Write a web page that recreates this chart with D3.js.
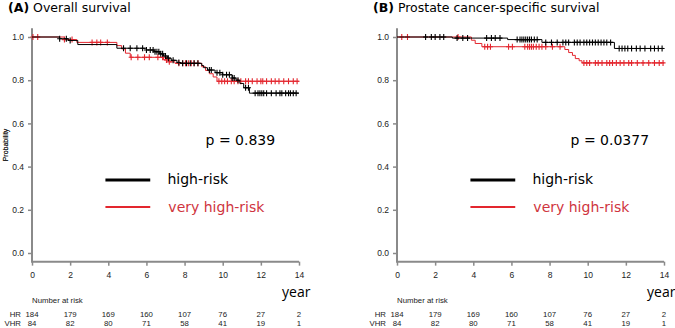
<!DOCTYPE html>
<html>
<head>
<meta charset="utf-8">
<script src="https://cdn.jsdelivr.net/npm/d3@7"></script>
<style>
  body { margin: 0; background: #fff; }
  svg { display: block; }
</style>
</head>
<body>
<svg id="chart" width="675" height="328"></svg>
<script>
// DATA
const years = [0, 2, 4, 6, 8, 10, 12, 14];
const yTicks = [0, 0.2, 0.4, 0.6, 0.8, 1.0];
const riskHR = [184, 179, 169, 160, 107, 76, 27, 2];
const riskVHR = [84, 82, 80, 71, 58, 41, 19, 1];

// overall survival, steps [year, prob]
const osHR = [[0, 1], [1.45, 0.992], [1.9, 0.984], [2.4, 0.965], [4.45, 0.948], [6.0, 0.94], [6.4, 0.932],
  [6.7, 0.922], [6.9, 0.912], [7.1, 0.902], [7.3, 0.892], [7.6, 0.882], [7.8, 0.878], [8.9, 0.868],
  [9.0, 0.858], [9.2, 0.847], [9.6, 0.835], [10.0, 0.825], [10.5, 0.81], [10.7, 0.8], [10.9, 0.785],
  [11.1, 0.765], [11.4, 0.74], [14, 0.74]];
const osVHR = [[0, 1], [1.7, 0.988], [2.35, 0.975], [4.45, 0.96], [4.7, 0.945], [4.9, 0.925], [5.15, 0.906],
  [6.9, 0.894], [7.2, 0.885], [7.5, 0.878], [8.9, 0.862], [9.1, 0.845], [9.3, 0.83], [9.5, 0.815],
  [9.7, 0.795], [14, 0.795]];
const osHRcens = [1.45, 1.8, 2.0, 4.8, 5.15, 5.5, 5.8, 6.0, 6.2, 6.35, 6.45, 6.55, 6.65, 6.75, 6.85, 7.0,
  7.15, 7.4, 7.7, 7.9, 8.1, 8.3, 8.5, 8.7, 9.3, 9.4, 9.7, 9.85, 10.0, 10.2, 10.35, 10.5, 10.6, 10.8,
  11.2, 11.35, 11.7, 11.85, 11.95, 12.05, 12.15, 12.3, 12.55, 12.8, 13.0, 13.1, 13.3, 13.45, 13.55,
  13.7, 13.85];
const osVHRcens = [0.05, 0.3, 1.7, 2.1, 3.15, 3.4, 3.6, 3.95, 5.2, 5.55, 5.9, 6.15, 6.6, 6.85, 7.05, 7.2,
  7.7, 7.9, 8.05, 8.2, 8.35, 8.5, 8.7, 9.8, 9.95, 10.1, 10.25, 10.45, 10.6, 10.8, 10.95, 11.2, 11.35,
  11.55, 11.8, 12.0, 12.1, 12.3, 12.55, 12.75, 12.95, 13.2, 13.45, 13.7, 13.9];

// prostate cancer-specific survival
const pcHR = [[0, 1], [2.9, 0.995], [5.8, 0.988], [7.6, 0.975], [11.4, 0.947], [14, 0.947]];
const pcVHR = [[0, 1], [3.9, 0.985], [4.1, 0.97], [4.45, 0.955], [8.8, 0.942], [9.0, 0.928], [9.2, 0.915],
  [9.35, 0.9], [9.55, 0.89], [9.7, 0.88], [14, 0.88]];
const pcHRcens = [1.5, 1.8, 2.0, 2.25, 2.45, 3.15, 3.45, 3.7, 4.7, 4.95, 5.15, 5.4, 6.3, 6.45, 6.55, 6.65,
  6.75, 6.85, 6.95, 7.05, 7.2, 7.35, 7.8, 8.1, 8.4, 8.7, 8.85, 9.0, 9.3, 9.45, 9.6, 9.8, 9.95, 10.1,
  10.25, 10.4, 10.55, 10.7, 10.85, 11.0, 11.2, 11.65, 11.8, 11.95, 12.1, 12.3, 12.55, 12.75, 13.0,
  13.3, 13.5, 13.7, 13.9];
const pcVHRcens = [0.25, 0.55, 3.2, 4.6, 4.75, 4.9, 5.85, 6.05, 6.7, 6.85, 6.95, 7.05, 7.15, 7.3, 7.45,
  7.6, 7.8, 8.15, 8.55, 9.8, 9.95, 10.1, 10.4, 10.55, 10.75, 11.0, 11.15, 11.3, 11.5, 11.7, 11.9,
  12.15, 12.3, 12.6, 12.9, 13.2, 13.5, 13.75, 13.95];

const BLACK = "#000", RED = "#e3262e", RED_TXT = "#cf3440", AXIS = "#8a8a8a";
const sansR = "Liberation Sans, Arial, sans-serif";
const sansV = "DejaVu Sans, Verdana, sans-serif";

const svg = d3.select("#chart");

function survAt(steps, t) {
  let s = steps[0][1];
  for (const d of steps) { if (d[0] <= t) s = d[1]; }
  return s;
}

function panel(left, title, pText, series) {
  const x = d3.scaleLinear().domain([0, 14]).range([left, left + 267]);
  const y = d3.scaleLinear().domain([0, 1]).range([253, 37]);
  const g = svg.append("g");

  // title
  const tt = g.append("text").attr("x", left - 24).attr("y", 12)
    .style("font-family", sansV).style("font-size", "12.5px");
  tt.append("tspan").style("font-weight", "bold").text(title[0]);
  tt.append("tspan").text(" " + title[1]);

  // L frame
  g.append("path")
    .attr("d", `M${x(0)},${y(1.04)}V${y(-0.04)}H${x(14)}`)
    .attr("fill", "none").attr("stroke", AXIS).attr("stroke-width", 2);

  const gy = g.append("g").attr("transform", `translate(${x(0)},0)`)
    .call(d3.axisLeft(y).tickValues(yTicks).tickFormat(d3.format(".1f")).tickSize(4).tickPadding(4));
  const gx = g.append("g").attr("transform", `translate(0,${y(-0.04)})`)
    .call(d3.axisBottom(x).tickValues(years).tickSize(4).tickPadding(6));
  [gy, gx].forEach(a => {
    a.select(".domain").remove();
    a.selectAll("line").attr("stroke", AXIS).attr("stroke-width", 1.5);
    a.selectAll("text").style("font-family", sansR).style("font-size", "8.5px").attr("fill", "#222");
  });

  g.append("text").attr("transform", `translate(8,${y(0.5)}) rotate(-90)`)
    .attr("text-anchor", "middle").style("font-family", sansR).style("font-size", "7px")
    .attr("fill", "#222").text("Probability");

  g.append("text").attr("x", x(14) - 17).attr("y", 297)
    .style("font-family", "Open Sans, sans-serif").style("font-size", "14px").text("year");

  // curves
  const line = d3.line().x(d => x(d[0])).y(d => y(d[1])).curve(d3.curveStepAfter);
  series.forEach(s => {
    g.append("path").datum(s.steps).attr("d", line)
      .attr("fill", "none").attr("stroke", s.color).attr("stroke-width", 1);
    g.append("g").selectAll("path").data(s.cens).join("path")
      .attr("d", t => {
        const cx = x(t), cy = y(survAt(s.steps, t));
        return `M${cx - 2.5},${cy}H${cx + 2.5}M${cx},${cy - 3}V${cy + 3}`;
      })
      .attr("stroke", s.color).attr("stroke-width", 1.1);
  });

  // p value
  g.append("text").attr("x", x(9.1)).attr("y", 145)
    .style("font-family", sansV).style("font-size", "14px").text(pText);

  // legend
  const lx0 = x(3.85), lx1 = x(6.2);
  g.append("line").attr("x1", lx0).attr("x2", lx1).attr("y1", 180).attr("y2", 180)
    .attr("stroke", BLACK).attr("stroke-width", 3);
  g.append("line").attr("x1", lx0).attr("x2", lx1).attr("y1", 207).attr("y2", 207)
    .attr("stroke", RED).attr("stroke-width", 2);
  g.append("text").attr("x", x(7.1)).attr("y", 184)
    .style("font-family", sansV).style("font-size", "14px").text("high-risk");
  g.append("text").attr("x", x(7.15)).attr("y", 212).attr("fill", RED_TXT)
    .style("font-family", sansV).style("font-size", "14px").text("very high-risk");

  // number at risk
  g.append("text").attr("x", x(0)).attr("y", 303)
    .style("font-family", sansR).style("font-size", "7.8px").attr("fill", "#222").text("Number at risk");
  [["HR", riskHR, 317], ["VHR", riskVHR, 326]].forEach(([lab, vals, yy]) => {
    g.append("text").attr("x", x(0) - 11).attr("y", yy).attr("text-anchor", "end")
      .style("font-family", sansR).style("font-size", "7.8px").attr("fill", "#222").text(lab);
    g.append("g").selectAll("text").data(vals).join("text")
      .attr("x", (v, i) => x(years[i])).attr("y", yy).attr("text-anchor", "middle")
      .style("font-family", sansR).style("font-size", "7.8px").attr("fill", "#222").text(v => v);
  });
}

panel(32, ["(A)", "Overall survival"], "p = 0.839", [
  { steps: osVHR, cens: osVHRcens, color: RED },
  { steps: osHR, cens: osHRcens, color: BLACK }
]);
panel(397, ["(B)", "Prostate cancer-specific survival"], "p = 0.0377", [
  { steps: pcVHR, cens: pcVHRcens, color: RED },
  { steps: pcHR, cens: pcHRcens, color: BLACK }
]);
</script>
</body>
</html>
